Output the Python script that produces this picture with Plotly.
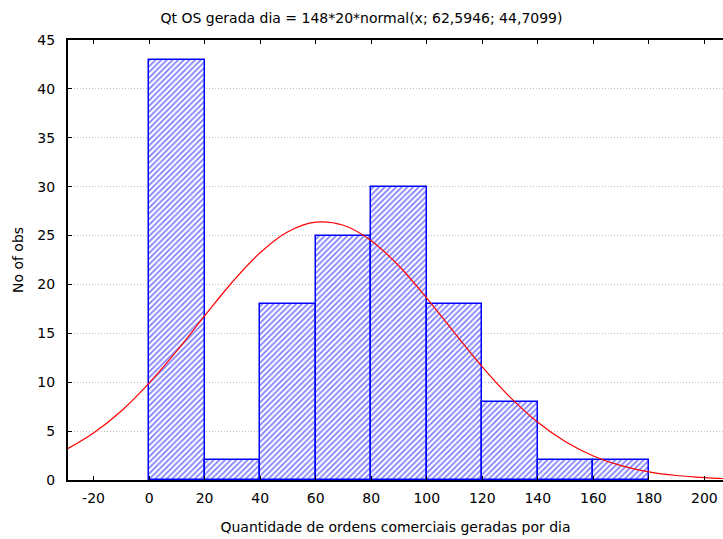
import plotly.graph_objects as go

# Histogram bins (lower edge, upper edge) and counts
bin_lower = [0, 20, 40, 60, 80, 100, 120, 140, 160]
bin_upper = [20, 40, 60, 80, 100, 120, 140, 160, 180]
counts = [43, 2, 18, 25, 30, 18, 8, 2, 2]

# Fitted normal curve
curve_x = [-30, -20, -10, 0, 10, 20, 30, 40, 50, 60, 70, 80, 90, 100, 110, 120,
           130, 140, 150, 160, 170, 180, 190, 200, 210]
curve_y = [3.09, 4.80, 7.06, 9.91, 13.21, 16.78, 20.25, 23.24, 25.38, 26.37, 26.05,
           24.48, 21.89, 18.61, 15.05, 11.58, 8.48, 5.90, 3.91, 2.46, 1.47, 0.84,
           0.46, 0.24, 0.12]

title_text = "Qt OS gerada dia = 148*20*normal(x; 62,5946; 44,7099)"
x_title = "Quantidade de ordens comerciais geradas por dia"
y_title = "No of obs"
x_ticks = [-20, 0, 20, 40, 60, 80, 100, 120, 140, 160, 180, 200]
x_ticklabels = ["-20", "0", "20", "40", "60", "80", "100", "120", "140", "160", "180", "200"]
y_ticks = [0, 5, 10, 15, 20, 25, 30, 35, 40, 45]

centers = [(a + b) / 2 for a, b in zip(bin_lower, bin_upper)]
widths = [b - a for a, b in zip(bin_lower, bin_upper)]

fig = go.Figure()
fig.add_trace(go.Bar(
    x=centers, y=counts, width=widths,
    marker=dict(
        color="white",
        line=dict(color="#0000ff", width=1.5),
        pattern=dict(shape="/", fgcolor="#0000ff", bgcolor="white", size=4, solidity=0.45),
    ),
    showlegend=False,
))
fig.add_trace(go.Scatter(
    x=curve_x, y=curve_y, mode="lines",
    line=dict(color="#ff0000", width=1.2, shape="spline"),
    showlegend=False,
))

font_family = "DejaVu Sans, Verdana, sans-serif"
fig.update_layout(
    width=723, height=539,
    margin=dict(l=68, r=0, t=40, b=59),
    paper_bgcolor="white", plot_bgcolor="white",
    font=dict(family=font_family, size=14, color="black"),
    title=dict(text=title_text, x=0.5, xanchor="center", y=0.966, yanchor="middle",
               font=dict(size=14, family=font_family)),
    bargap=0,
    xaxis=dict(
        range=[-29.2, 206.7], tickvals=x_ticks, ticktext=x_ticklabels,
        ticks="inside", ticklen=4,
        tickcolor="black", showline=True, linecolor="black", linewidth=2,
        mirror="ticks", showgrid=False, zeroline=False,
        title=dict(text=x_title, standoff=17, font=dict(size=14)),
        tickfont=dict(size=14), ticklabelstandoff=4,
    ),
    yaxis=dict(
        range=[0, 45], tickvals=y_ticks, ticks="inside", ticklen=4,
        tickcolor="black", showline=True, linecolor="black", linewidth=2,
        showgrid=True, gridcolor="#bdbdbd", griddash="1px,2px", gridwidth=1,
        zeroline=False,
        title=dict(text=y_title, standoff=10, font=dict(size=14)),
        tickfont=dict(size=14), ticklabelstandoff=8,
    ),
)

fig.write_html("out.html")
